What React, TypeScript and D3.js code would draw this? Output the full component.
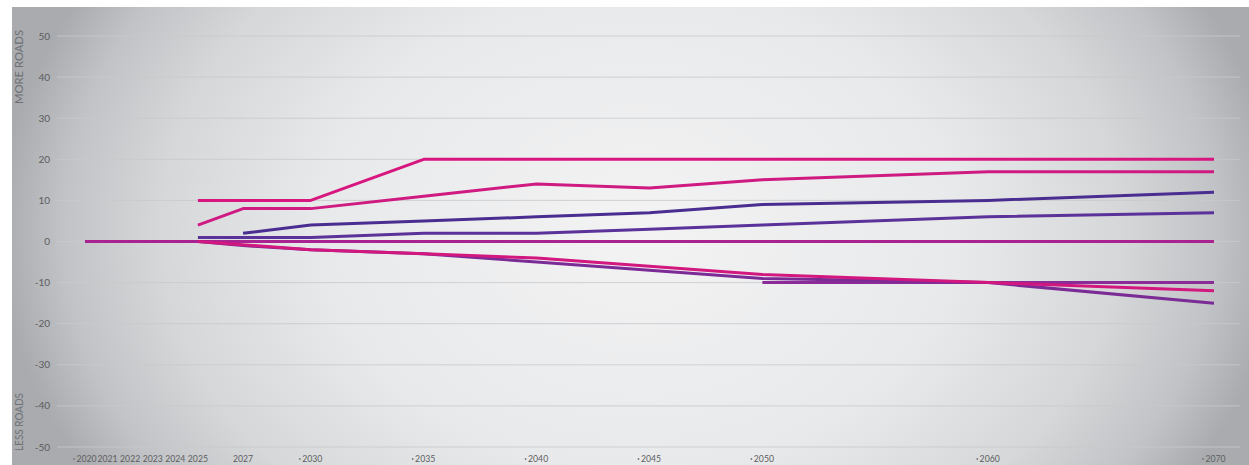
import React from "react";
import * as d3 from "d3";

const years = [2020, 2021, 2022, 2023, 2024, 2025, 2027, 2030, 2035, 2040, 2045, 2050, 2060, 2070];
const tickLabels = ["2020", "2021", "2022", "2023", "2024", "2025", "2027", "2030", "2035", "2040", "2045", "2050", "2060", "2070"];
const tickDots = [true, false, false, false, false, false, false, true, true, true, true, true, true, true];
const yTicks = [50, 40, 30, 20, 10, 0, -10, -20, -30, -40, -50];

const seriesA = [null, null, null, null, null, 10, null, 10, 20, 20, 20, 20, 20, 20];
const seriesB = [null, null, null, null, null, 4, 8, 8, 11, 14, 13, 15, 17, 17];
const seriesC = [null, null, null, null, null, null, 2, 4, 5, 6, 7, 9, 10, 12];
const seriesD = [null, null, null, null, null, 1, null, 1, 2, 2, 3, 4, 6, 7];
const seriesE = [0, 0, 0, 0, 0, 0, 0, 0, 0, 0, 0, 0, 0, 0];
const seriesF = [null, null, null, null, null, 0, null, -2, -3, -4, -6, -8, -10, -12];
const seriesG = [null, null, null, null, null, 0, -1, -2, -3, -5, -7, -9, -10, -15];
const seriesH = [null, null, null, null, null, null, null, null, null, null, null, -10, -10, -10];

const series = [
  { name: "E", values: seriesE, color: "#a8238f" },
  { name: "H", values: seriesH, color: "#8a2b97" },
  { name: "G", values: seriesG, color: "#7b2b96" },
  { name: "F", values: seriesF, color: "#d2177f" },
  { name: "D", values: seriesD, color: "#5a3299" },
  { name: "C", values: seriesC, color: "#4a2d90" },
  { name: "B", values: seriesB, color: "#cf1a82" },
  { name: "A", values: seriesA, color: "#d8167f" },
];

export default function App() {
  const W = 1249, H = 465;
  const x = d3.scaleLinear().domain([2020, 2070]).range([85, 1214]);
  const y = d3.scaleLinear().domain([-50, 50]).range([447, 36]);
  const line = d3
    .line<[number, number]>()
    .x((d) => x(d[0]))
    .y((d) => y(d[1]));

  return (
    <svg width={W} height={H} style={{ position: "absolute", left: 0, top: 0 }}>
      <defs>
        <radialGradient
          id="bg"
          gradientUnits="userSpaceOnUse"
          cx={640}
          cy={230}
          r={640}
          gradientTransform="translate(640,230) scale(1,0.75) translate(-640,-230)"
        >
          <stop offset="0%" stopColor="#f3f3f4" />
          <stop offset="50%" stopColor="#e8e9ea" />
          <stop offset="75%" stopColor="#d6d7d9" />
          <stop offset="90%" stopColor="#c1c3c6" />
          <stop offset="100%" stopColor="#a9abae" />
        </radialGradient>
      </defs>
      <rect x={0} y={0} width={W} height={H} fill="#ffffff" />
      <rect x={12} y={7} width={W - 12} height={H - 7} fill="url(#bg)" />
      {yTicks.map((t) => (
        <g key={t}>
          <line x1={57} x2={1240} y1={y(t)} y2={y(t)} stroke="#c9cacc" strokeWidth={1} opacity={0.8} />
          <text x={50} y={y(t)} dy="0.35em" textAnchor="end" fontFamily="Lato" fontSize={10} fill="#5c5d60">
            {t}
          </text>
        </g>
      ))}
      <text
        transform={`translate(23,67) rotate(-90)`}
        textAnchor="middle"
        fontFamily="Lato"
        fontSize={11}
        fill="#6e7074"
        textLength={74}
        lengthAdjust="spacingAndGlyphs"
      >
        MORE ROADS
      </text>
      <text
        transform={`translate(23,422) rotate(-90)`}
        textAnchor="middle"
        fontFamily="Lato"
        fontSize={11}
        fill="#6e7074"
        textLength={58}
        lengthAdjust="spacingAndGlyphs"
      >
        LESS ROADS
      </text>
      {years.map((yr, i) => (
        <g key={yr}>
          {tickDots[i] && <circle cx={x(yr) - 11} cy={459} r={0.9} fill="#77787b" />}
          <text
            x={x(yr) + (tickDots[i] ? 1.5 : 0)}
            y={462}
            textAnchor="middle"
            fontFamily="Lato"
            fontSize={8.7}
            fill="#5c5d60"
          >
            {tickLabels[i]}
          </text>
        </g>
      ))}
      {series.map((s) => {
        const pts = years
          .map((yr, i) => [yr, s.values[i]] as [number, number | null])
          .filter((d) => d[1] !== null) as [number, number][];
        return (
          <path
            key={s.name}
            d={line(pts) || ""}
            fill="none"
            stroke={s.color}
            strokeWidth={3}
            strokeLinejoin="round"
          />
        );
      })}
    </svg>
  );
}
